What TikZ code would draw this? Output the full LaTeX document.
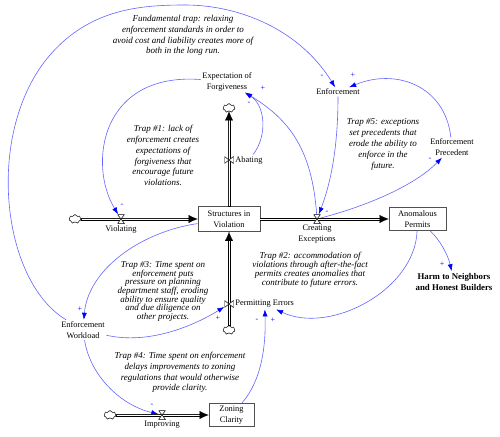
\documentclass[tikz,border=0pt]{standalone}
\usepackage{fontspec}
\setmainfont{Liberation Serif}
\usetikzlibrary{shapes.symbols, arrows.meta, positioning}
\pgfdeclarelayer{front}
\pgfsetlayers{main,front}
\definecolor{LinkBlue}{HTML}{6464FF}
\definecolor{TipBlue}{HTML}{0000FF}
\definecolor{BoxGray}{HTML}{505050}
\tikzset{
  stock/.style={rectangle, draw=BoxGray, fill=white, line width=0.8pt,
    align=center, font=\fontsize{8.4}{11}\selectfont, inner sep=1pt},
  aux/.style={align=center, font=\fontsize{8.4}{11}\selectfont, inner sep=1.5pt},
  note/.style={align=center, font=\fontsize{9}{10.8}\selectfont\itshape, inner sep=0pt},
  pipebody/.style={draw=black, fill=white, line width=0.5pt},
  pipetip/.style={draw=white, line width=0.1pt, -{Latex[length=9pt,width=8pt,color=black]}},
  link/.style={draw=LinkBlue, line width=0.6pt, -{Latex[length=7pt,width=5pt,color=TipBlue]}},
  sign/.style={font=\fontsize{8}{8}\selectfont, text=TipBlue, inner sep=0pt},
  valveh/.style={rectangle, minimum width=7pt, minimum height=9pt, inner sep=0pt,
    path picture={\draw[draw=black, fill=white, line width=0.5pt]
      (path picture bounding box.north west) -- (path picture bounding box.north east)
      -- (path picture bounding box.south west) -- (path picture bounding box.south east) -- cycle;}},
  valvev/.style={rectangle, minimum width=9pt, minimum height=7pt, inner sep=0pt,
    path picture={\draw[draw=black, fill=white, line width=0.5pt]
      (path picture bounding box.north west) -- (path picture bounding box.south west)
      -- (path picture bounding box.north east) -- (path picture bounding box.south east) -- cycle;}},
  cloudsrc/.style={cloud, cloud puffs=7, draw, fill=white, line width=0.5pt,
    minimum width=12pt, minimum height=9pt, inner sep=0pt},
}
\begin{document}
\begin{tikzpicture}[x=1pt, y=-1pt]
  \useasboundingbox (0,0) rectangle (500,436);

  % Stocks
  \node[stock, minimum width=62pt, minimum height=25pt] (siv) at (229,219) {Structures in\\Violation};
  \node[stock, minimum width=57pt, minimum height=23pt] (ap) at (417.5,219) {Anomalous\\Permits};
  \node[stock, minimum width=45pt, minimum height=23pt] (zc) at (231.5,415) {Zoning\\Clarity};

  % Clouds
  \node[cloudsrc] (cViol) at (75,219) {};
  \node[cloudsrc] (cAb) at (229,108) {};
  \node[cloudsrc] (cPE) at (229,330) {};
  \node[cloudsrc] (cImp) at (110,415) {};

  % Valves and rates
  \begin{pgfonlayer}{front}
    \node[valveh] (vViol) at (121,219) {};
    \node[valveh] (vCE) at (317,219) {};
    \node[valveh] (vImp) at (162,415) {};
    \node[valvev] (vAb) at (229,160) {};
    \node[valvev] (vPE) at (229,304) {};
  \end{pgfonlayer}
  \node[aux, below=0pt of vViol] (viol) {Violating};
  \node[aux, below=0pt of vCE] (ce) {Creating\\Exceptions};
  \node[aux, below=0pt of vImp] (imp) {Improving};
  \node[aux, right=0pt of vAb] (ab) {Abating};
  \node[aux, right=0pt of vPE] (pe) {Permitting Errors};

  % Auxiliaries
  \node[aux] (forg) at (227,81.5) {Expectation of\\Forgiveness};
  \node[aux] (enf) at (338,92) {Enforcement};
  \node[aux] (prec) at (452,147.5) {Enforcement\\Precedent};
  \node[aux] (wl) at (83,330) {Enforcement\\Workload};
  \node[aux, font=\fontsize{8.8}{11}\selectfont\bfseries] (harm) at (454,281.5)
    {Harm to Neighbors\\and Honest Builders};

  % Notes
  \node[note] (nFund) at (183,35.5) {Fundamental trap: relaxing\\enforcement standards in order to\\avoid cost and liability creates more of\\both in the long run.};
  \node[note] (nT1) at (163,155.5) {Trap \#1: lack of\\enforcement creates\\expectations of\\forgiveness that\\encourage future\\violations.};
  \node[note] (nT5) at (383,144.5) {Trap \#5: exceptions\\set precedents that\\erode the ability to\\enforce in the\\future.};
  \node[note, font=\fontsize{9}{9}\selectfont\itshape] (nT2) at (310,269.5) {Trap \#2: accommodation of\\violations through after-the-fact\\permits creates anomalies that\\contribute to future errors.};
  \node[note, font=\fontsize{9}{8.6}\selectfont\itshape] (nT3) at (163,291.5) {Trap \#3: Time spent on\\enforcement puts\\pressure on planning\\department staff, eroding\\ability to ensure quality\\and due diligence on\\other projects.};
  \node[note] (nT4) at (180,372.5) {Trap \#4: Time spent on enforcement\\delays improvements to zoning\\regulations that would otherwise\\provide clarity.};

  % Links
  \draw[link] (wl) .. controls (0,280) and (-15,130) .. (50,55)
    .. controls (90,9) and (140,5) .. (185,5) .. controls (240,5) and (300,30) .. (enf);
  \draw[link] (forg) .. controls (100,72) and (88,165) .. (vViol);
  \draw[link] (ab) .. controls (268,135) and (265,105) .. (forg);
  \draw[link] (vCE) .. controls (312,150) and (290,120) .. (forg);
  \draw[link] (enf) .. controls (338,150) and (330,185) .. (vCE);
  \draw[link] (vCE) .. controls (370,205) and (415,185) .. (prec);
  \draw[link] (prec) .. controls (445,85) and (395,68) .. (enf);
  \draw[link] (siv) .. controls (140,232) and (88,270) .. (wl);
  \draw[link] (wl) .. controls (150,345) and (195,325) .. (vPE);
  \draw[link] (wl) .. controls (90,375) and (120,405) .. (vImp);
  \draw[link] (zc) .. controls (262,380) and (266,345) .. (pe);
  \draw[link] (ap) .. controls (415,290) and (330,335) .. (pe);
  \draw[link] (ap) .. controls (440,240) and (448,255) .. (harm);

  % Signs
  \node[sign] (sViol) at (122,205) {-};
  \node[sign] (sAb) at (249,103) {-};
  \node[sign] (sCEf) at (263,88) {+};
  \node[sign] (sWl) at (322,76) {-};
  \node[sign] (sPrec) at (353,75) {+};
  \node[sign] (sEnf) at (327,212) {-};
  \node[sign] (sCEp) at (430,159) {-};
  \node[sign] (sSiv) at (80,309) {+};
  \node[sign] (sWlPE) at (218,318) {+};
  \node[sign] (sImp) at (152,405) {-};
  \node[sign] (sZc) at (257,320) {-};
  \node[sign] (sAp) at (273,320) {+};
  \node[sign] (sHarm) at (442,264) {+};

  % Pipes
  \foreach \a/\b in {cViol.east/siv.west, siv.east/ap.west, cImp.east/zc.west}{
    \filldraw[pipebody] ([yshift=1.05pt]\a) rectangle ([xshift=-8pt,yshift=-1.05pt]\b);
    \draw[pipetip] (\a) -- (\b);
  }
  \foreach \a/\b in {siv.north/cAb.south, cPE.north/siv.south}{
    \filldraw[pipebody] ([xshift=-1.05pt]\a) rectangle ([xshift=1.05pt,yshift=-8pt]\b);
    \draw[pipetip] (\a) -- (\b);
  }
\end{tikzpicture}
\end{document}
